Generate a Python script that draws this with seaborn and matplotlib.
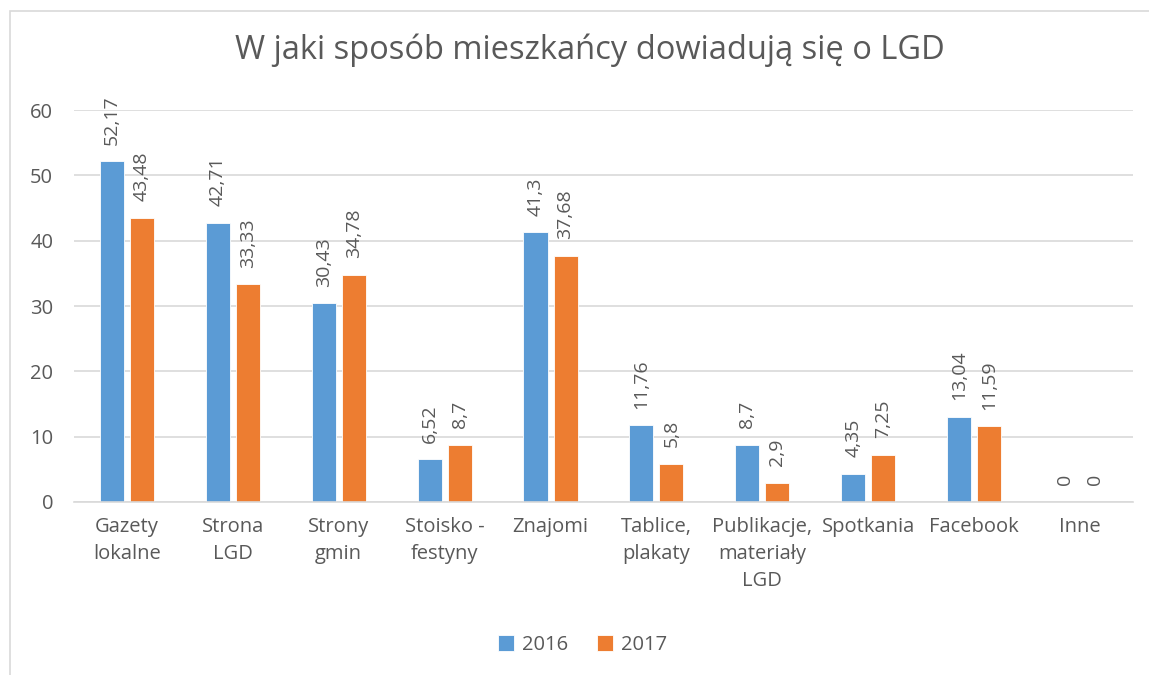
import matplotlib.pyplot as plt
import pandas as pd
import seaborn as sns
from matplotlib.patches import Rectangle

categories = ["Gazety\nlokalne", "Strona\nLGD", "Strony\ngmin", "Stoisko -\nfestyny", "Znajomi",
              "Tablice,\nplakaty", "Publikacje,\nmateriały\nLGD", "Spotkania", "Facebook", "Inne"]
years = ["2016", "2017"]
values_2016 = [52.17, 42.71, 30.43, 6.52, 41.3, 11.76, 8.7, 4.35, 13.04, 0]
values_2017 = [43.48, 33.33, 34.78, 8.7, 37.68, 5.8, 2.9, 7.25, 11.59, 0]

df = pd.DataFrame({
    "kategoria": categories * 2,
    "rok": [years[0]] * len(categories) + [years[1]] * len(categories),
    "wartosc": values_2016 + values_2017,
})

sns.set_style("white")
plt.rcParams['font.family'] = ['Open Sans', 'DejaVu Sans']
text_color = "#595959"
palette = {"2016": "#5B9BD5", "2017": "#ED7D31"}

fig = plt.figure(figsize=(11.49, 6.75), dpi=100)
ax = fig.add_axes([0.0644, 0.2563, 0.9216, 0.5807])

sns.barplot(data=df, x="kategoria", y="wartosc", hue="rok", palette=palette,
            width=0.567, gap=0.2, ax=ax, saturation=1, edgecolor="white", linewidth=0.6)

# value labels, rotated like in the original
for cont in ax.containers:
    labels = [("%g" % v.get_height()).replace(".", ",") for v in cont]
    ax.bar_label(cont, labels=labels, rotation=90, padding=12, fontsize=14, color=text_color)

ax.set_ylim(0, 60)
ax.set_yticks(range(0, 61, 10))
ax.yaxis.grid(True, color="#D9D9D9", linewidth=1.2)
ax.set_axisbelow(True)
for s in ["top", "right", "left"]:
    ax.spines[s].set_visible(False)
ax.spines["bottom"].set_color("#D9D9D9")
ax.spines["bottom"].set_linewidth(1.2)
ax.tick_params(axis="y", length=0, pad=15, labelsize=14.5, labelcolor=text_color)
ax.tick_params(axis="x", length=0, pad=11, labelsize=14.5, labelcolor=text_color)
for t in ax.get_xticklabels():
    t.set_linespacing(1.45)
ax.set_xlabel("")
ax.set_ylabel("")

fig.text(0.513, 0.925, "W jaki sposób mieszkańcy dowiadują się o LGD", ha="center", va="center",
         fontsize=23.5, color=text_color)

ax.legend(loc="center", bbox_to_anchor=(0.507, 1 - 645 / 675), bbox_transform=fig.transFigure,
          ncol=2, frameon=False, fontsize=14.5, labelcolor=text_color,
          handlelength=0.8, handleheight=0.8, handletextpad=0.4, columnspacing=1.4)

# chart border (only left and top visible in the original crop)
fig.patches.append(Rectangle((10 / 1149, -0.1), 1.2, 1 - 11 / 675 + 0.1, transform=fig.transFigure,
                             fill=False, edgecolor="#D9D9D9", linewidth=1.2))

fig.savefig("out.png", dpi=100)
